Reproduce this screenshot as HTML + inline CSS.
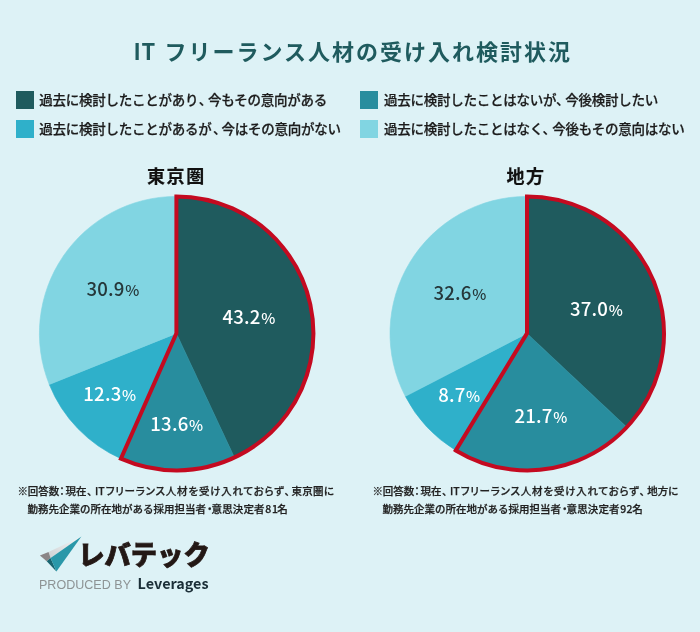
<!DOCTYPE html>
<html lang="ja"><head><meta charset="utf-8"><title>IT フリーランス人材の受け入れ検討状況</title>
<style>
html,body{margin:0;padding:0;background:#ddf2f6;}
body{width:700px;height:632px;overflow:hidden;font-family:"Liberation Sans","Noto Sans CJK JP",sans-serif;}
svg{display:block}
text{font-family:"Noto Sans CJK JP","Liberation Sans",sans-serif;}
.title{font-size:22px;font-weight:700;fill:#1f5b5e;letter-spacing:2px}
.lg{font-size:13.5px;font-weight:500;fill:#1c1c1c;letter-spacing:-0.25px;stroke:#1c1c1c;stroke-width:0.25px}
.pt{font-size:18px;font-weight:700;fill:#111;letter-spacing:1.6px;stroke:#111;stroke-width:0.2px}
.pl{font-size:18.6px;font-weight:500;letter-spacing:0.2px}
.pc{font-size:15px}
.fn{font-size:10.5px;font-weight:500;fill:#222;stroke:#222;stroke-width:0.25px;}
.h{font-feature-settings:"halt";}
.p{font-feature-settings:"palt";}
.lv{font-size:27px;font-weight:900;fill:#231815;stroke:#231815;stroke-width:0.8px;stroke-linejoin:miter}
.pb{font-family:"Liberation Sans",sans-serif;font-size:12px;fill:#8d9394;}
.le{font-size:14.5px;font-weight:700;fill:#1b2f38;}
</style></head><body>
<svg width="700" height="632" viewBox="0 0 700 632">
<rect width="700" height="632" fill="#ddf2f6"/>
<text class="title" y="59.5"><tspan x="133.4" style="letter-spacing:0.9px">IT</tspan> <tspan x="164.4">フリーランス人材の受け入れ検討状況</tspan></text>
<rect x="16" y="91" width="18" height="18" fill="#1f5b5e"/>
<rect x="16" y="120" width="18" height="18" fill="#2fb0ca"/>
<rect x="360" y="91" width="18" height="18" fill="#288d9e"/>
<rect x="360" y="120" width="18" height="18" fill="#81d5e2"/>
<text class="lg" y="104.9"><tspan x="39.2">過去に検討したことがあり</tspan><tspan x="198.7">、</tspan><tspan x="208.0">今もその意向がある</tspan></text>
<text class="lg" y="133.7"><tspan x="39.2">過去に検討したことがあるが</tspan><tspan x="212.9">、</tspan><tspan x="221.4">今はその意向がない</tspan></text>
<text class="lg" y="104.9"><tspan x="384.0">過去に検討したことはないが</tspan><tspan x="556.1">、</tspan><tspan x="565.3">今後検討したい</tspan></text>
<text class="lg" y="133.7"><tspan x="384.0">過去に検討したことはなく</tspan><tspan x="542.4">、</tspan><tspan x="552.3">今後もその意向はない</tspan></text>
<text class="pt" x="147" y="183.3">東京圏</text>
<text class="pt" x="506.5" y="183.3">地方</text>
<path d="M176.4 333.4L176.40 196.40A137.0 137.0 0 0 1 234.42 457.51Z" fill="#1f5b5e" stroke="#1f5b5e" stroke-width="0.6"/>
<path d="M176.4 333.4L234.42 457.51A137.0 137.0 0 0 1 120.89 458.65Z" fill="#288d9e" stroke="#288d9e" stroke-width="0.6"/>
<path d="M176.4 333.4L120.89 458.65A137.0 137.0 0 0 1 49.28 384.47Z" fill="#2fb0ca" stroke="#2fb0ca" stroke-width="0.6"/>
<path d="M176.4 333.4L49.28 384.47A137.0 137.0 0 0 1 176.40 196.40Z" fill="#81d5e2" stroke="#81d5e2" stroke-width="0.6"/>
<path d="M176.4 333.4L176.40 196.40A137.0 137.0 0 1 1 120.89 458.65Z" fill="none" stroke="#c40a20" stroke-width="4.0" stroke-linejoin="miter"/>
<path d="M527 333.4L527.00 196.40A137.0 137.0 0 0 1 626.87 427.18Z" fill="#1f5b5e" stroke="#1f5b5e" stroke-width="0.6"/>
<path d="M527 333.4L626.87 427.18A137.0 137.0 0 0 1 455.79 450.44Z" fill="#288d9e" stroke="#288d9e" stroke-width="0.6"/>
<path d="M527 333.4L455.79 450.44A137.0 137.0 0 0 1 405.33 396.36Z" fill="#2fb0ca" stroke="#2fb0ca" stroke-width="0.6"/>
<path d="M527 333.4L405.33 396.36A137.0 137.0 0 0 1 527.00 196.40Z" fill="#81d5e2" stroke="#81d5e2" stroke-width="0.6"/>
<path d="M527 333.4L527.00 196.40A137.0 137.0 0 1 1 455.79 450.44Z" fill="none" stroke="#c40a20" stroke-width="4.0" stroke-linejoin="miter"/>
<text class="pl" x="222.5" y="323.8" fill="#fff">43.2<tspan class="pc" dx="0.5">%</tspan></text>
<text class="pl" x="86.5" y="296.2" fill="#26383b">30.9<tspan class="pc" dx="0.5">%</tspan></text>
<text class="pl" x="83.3" y="401" fill="#fff">12.3<tspan class="pc" dx="0.5">%</tspan></text>
<text class="pl" x="150.3" y="431" fill="#fff">13.6<tspan class="pc" dx="0.5">%</tspan></text>
<text class="pl" x="570" y="316" fill="#fff">37.0<tspan class="pc" dx="0.5">%</tspan></text>
<text class="pl" x="433.5" y="300.3" fill="#26383b">32.6<tspan class="pc" dx="0.5">%</tspan></text>
<text class="pl" x="438.2" y="401.8" fill="#fff">8.7<tspan class="pc" dx="0.5">%</tspan></text>
<text class="pl" x="514.5" y="423.2" fill="#fff">21.7<tspan class="pc" dx="0.5">%</tspan></text>
<text class="fn" y="494.6"><tspan x="17.5">※</tspan><tspan x="27.7">回答数</tspan><tspan class="h" x="59.4">：</tspan><tspan x="65.4">現在</tspan><tspan class="h" x="86.9">、</tspan><tspan x="95.0">IT</tspan><tspan class="p" x="105.7" textLength="178.2" lengthAdjust="spacing">フリーランス人材を受け入れておらず</tspan><tspan class="h" x="284.4">、</tspan><tspan x="291.6" textLength="31.8" lengthAdjust="spacing">東京圏</tspan><tspan x="323.8">に</tspan></text>
<text class="fn" y="513.0"><tspan x="27.6">勤務先企業の所在地がある採用担当者</tspan><tspan class="h" x="207.0">・</tspan><tspan x="211.6" textLength="53.0" lengthAdjust="spacing">意思決定者</tspan><tspan x="265.3" style="letter-spacing:0.8px">81</tspan><tspan x="277.3">名</tspan></text>
<text class="fn" y="494.6"><tspan x="372.5">※</tspan><tspan x="382.7">回答数</tspan><tspan class="h" x="414.4">：</tspan><tspan x="420.4">現在</tspan><tspan class="h" x="441.9">、</tspan><tspan x="450.0">IT</tspan><tspan class="p" x="460.7" textLength="178.2" lengthAdjust="spacing">フリーランス人材を受け入れておらず</tspan><tspan class="h" x="639.4">、</tspan><tspan x="647.2" textLength="21.0" lengthAdjust="spacing">地方</tspan><tspan x="668.0">に</tspan></text>
<text class="fn" y="513.0"><tspan x="382.6">勤務先企業の所在地がある採用担当者</tspan><tspan class="h" x="562.0">・</tspan><tspan x="566.6" textLength="53.0" lengthAdjust="spacing">意思決定者</tspan><tspan x="620.3" style="letter-spacing:0.1px">92</tspan><tspan x="632.3">名</tspan></text>
<g id="logo">
<defs><linearGradient id="lgr" x1="1" y1="0" x2="0" y2="1"><stop offset="0" stop-color="#f4f6f7"/><stop offset="1" stop-color="#cfd2d4"/></linearGradient></defs>
<polygon points="48.5,552.0 81.4,536.6 50.6,558.1" fill="url(#lgr)"/>
<polygon points="39.9,555.6 48.5,552.0 50.6,558.1 46.7,561.3" fill="#8b8687"/>
<polygon points="46.7,561.3 50.6,558.1 56.4,571.6" fill="#186570"/>
<polygon points="50.6,558.1 81.4,536.6 56.4,571.6" fill="#2a98a9"/>
<text class="lv" x="78.2" y="564.8" textLength="131.5" lengthAdjust="spacingAndGlyphs">レバテック</text>
<text class="pb" x="39" y="588.9" textLength="92" lengthAdjust="spacingAndGlyphs">PRODUCED BY</text>
<text class="le" x="137.6" y="588.5" textLength="71" lengthAdjust="spacingAndGlyphs">Leverages</text>
</g>
</svg>
</body></html>
